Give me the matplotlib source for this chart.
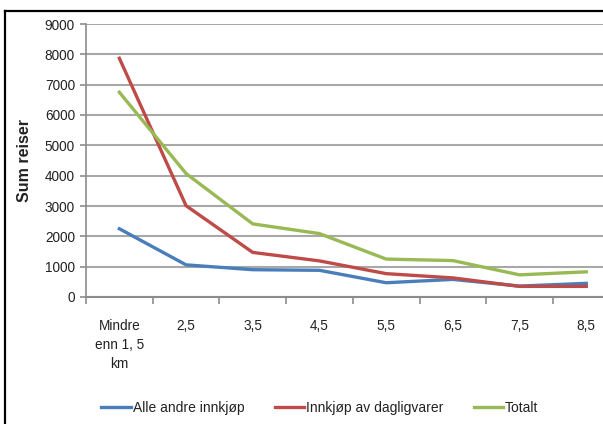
import matplotlib.pyplot as plt
from matplotlib.lines import Line2D

plt.rcParams['font.family'] = ['Liberation Sans', 'DejaVu Sans']

# avstandsklasser og antall reiser per formål
kategorier = ["Mindre\nenn 1, 5\nkm", "2,5", "3,5", "4,5", "5,5", "6,5", "7,5", "8,5"]
alle_andre = [2250, 1060, 900, 880, 470, 580, 360, 450]
dagligvarer = [7870, 3010, 1470, 1190, 770, 630, 350, 350]
totalt = [6750, 4070, 2410, 2090, 1250, 1200, 730, 830]

serier = [
    ("Alle andre innkjøp", alle_andre, "#4a7ebb"),
    ("Innkjøp av dagligvarer", dagligvarer, "#be4b48"),
    ("Totalt", totalt, "#98b954"),
]

fig = plt.figure(figsize=(6.03, 4.24), dpi=100)
fig.patch.set_facecolor("white")
ax = fig.add_axes([86 / 603, 1 - 297 / 424, 533.6 / 603, 273 / 424])

x = list(range(len(kategorier)))
for navn, verdier, farge in serier:
    ax.plot(x, verdier, color=farge, lw=2.4, label=navn, solid_joinstyle="round")

ax.set_xlim(-0.5, len(kategorier) - 0.5)
ax.set_ylim(0, 9000)
ax.set_yticks(range(0, 9001, 1000))
ax.yaxis.grid(True, color="#a8a8a8", lw=1.5)
ax.set_axisbelow(True)

ax.set_xticks(x)
ax.set_xticklabels(kategorier, fontsize=9.8, color="#222222", linespacing=1.45, va="top")
ax.set_xticks([i - 0.5 for i in range(len(kategorier) + 1)], minor=True)
ax.tick_params(axis="x", which="major", length=0, pad=16)
ax.tick_params(axis="x", which="minor", length=5, color="#8c8c8c", width=1.2, direction="out")
ax.tick_params(axis="y", length=4, color="#8c8c8c", width=1.2, labelsize=9.8,
               labelcolor="#222222", pad=4)

for side in ("top", "right"):
    ax.spines[side].set_visible(False)
ax.spines["left"].set_color("#8c8c8c")
ax.spines["left"].set_linewidth(1.2)
ax.spines["bottom"].set_color("#8c8c8c")
ax.spines["bottom"].set_linewidth(1.5)

fig.text(25 / 603, 1 - 161 / 424, "Sum reiser", rotation=90, ha="center", va="center",
         fontsize=11.5, fontweight="bold", color="#222222")

fig.legend(loc="center", bbox_to_anchor=(320 / 603, 1 - 408 / 424), ncol=3, frameon=False,
           fontsize=10, handlelength=2.1, handletextpad=0.15, columnspacing=2.2,
           labelcolor="#222222")

# ramme rundt diagrammet (topp og venstre)
fig.add_artist(Line2D([4.5 / 603, 4.5 / 603], [0, 1 - 10.5 / 424], color="black", lw=1.6,
                      transform=fig.transFigure))
fig.add_artist(Line2D([4.5 / 603, 1], [1 - 10.5 / 424, 1 - 10.5 / 424], color="black", lw=1.6,
                      transform=fig.transFigure))

fig.savefig("out.png", dpi=100)
